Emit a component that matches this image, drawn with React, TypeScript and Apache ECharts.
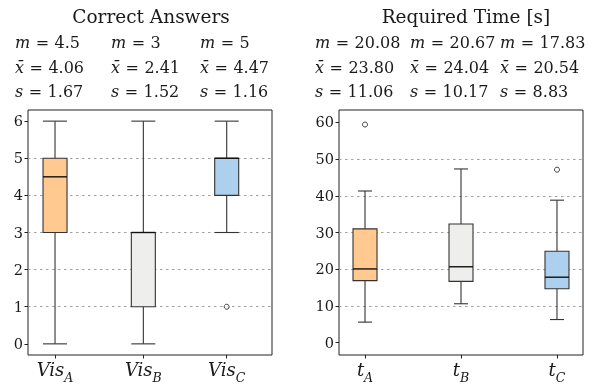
import React, { useEffect, useRef } from "react";
import * as echarts from "echarts";

// ---------- data ----------
const answerSubs = ["A", "B", "C"];
const answerMin = [0, 0, 3];
const answerQ1 = [3, 1, 4];
const answerMedian = [4.5, 3, 5];
const answerQ3 = [5, 3, 5];
const answerMax = [6, 6, 6];
const answerOutliers: [number, number][] = [[2, 1]]; // [box index, value]
const answerTicks = [0, 1, 2, 3, 4, 5, 6];
const answerM = ["4.5", "3", "5"];
const answerMean = ["4.06", "2.41", "4.47"];
const answerSd = ["1.67", "1.52", "1.16"];

const timeSubs = ["A", "B", "C"];
const timeMin = [5.6, 10.6, 6.3];
const timeQ1 = [16.9, 16.7, 14.7];
const timeMedian = [20.08, 20.67, 17.83];
const timeQ3 = [31.0, 32.3, 24.9];
const timeMax = [41.3, 47.3, 38.8];
const timeOutliers: [number, number][] = [
  [0, 59.4],
  [2, 47.1],
];
const timeTicks = [0, 10, 20, 30, 40, 50, 60];
const timeM = ["20.08", "20.67", "17.83"];
const timeMean = ["23.80", "24.04", "20.54"];
const timeSd = ["11.06", "10.17", "8.83"];

// ---------- layout / style ----------
const answerPos = [1, 2, 2.944];
const timePos = [1, 2, 3];
const fills = ["#FFC98F", "#EEEEEC", "#ADD0EE"];
const FONT = "'DejaVu Serif', serif";
const INK = "#222";
const TXT = "#1a1a1a";

function makeRender(boxHalf: number, capHalf: number) {
  return (params: any, api: any) => {
    const x = api.value(0);
    const pMin = api.coord([x, api.value(1)]);
    const pQ1 = api.coord([x, api.value(2)]);
    const pMed = api.coord([x, api.value(3)]);
    const pQ3 = api.coord([x, api.value(4)]);
    const pMax = api.coord([x, api.value(5)]);
    const cx = pMin[0];
    const ln = { stroke: "#333", lineWidth: 1.1 };
    return {
      type: "group",
      children: [
        { type: "line", shape: { x1: cx, y1: pMin[1], x2: cx, y2: pQ1[1] }, style: ln },
        { type: "line", shape: { x1: cx, y1: pQ3[1], x2: cx, y2: pMax[1] }, style: ln },
        { type: "line", shape: { x1: cx - capHalf, y1: pMin[1], x2: cx + capHalf, y2: pMin[1] }, style: ln },
        { type: "line", shape: { x1: cx - capHalf, y1: pMax[1], x2: cx + capHalf, y2: pMax[1] }, style: ln },
        {
          type: "rect",
          shape: { x: cx - boxHalf, y: pQ3[1], width: boxHalf * 2, height: pQ1[1] - pQ3[1] },
          style: { fill: fills[params.dataIndex], stroke: "#333", lineWidth: 1.1 },
        },
        {
          type: "line",
          shape: { x1: cx - boxHalf, y1: pMed[1], x2: cx + boxHalf, y2: pMed[1] },
          style: { stroke: "#111", lineWidth: 1.4 },
        },
      ],
    };
  };
}

const statRich = {
  i: { fontFamily: FONT, fontStyle: "italic", fontSize: 16, fill: TXT },
  e: { fontFamily: FONT, fontSize: 16, fill: TXT, padding: [0, 5.5, 0, 5.5] },
  n: { fontFamily: FONT, fontSize: 16, fill: TXT },
};

function statTexts(xs: number[], m: string[], mean: string[], sd: string[]) {
  const rows = [
    { y: 42.5, label: "m", vals: m },
    { y: 67.3, label: "x\u0304", vals: mean },
    { y: 91.5, label: "s", vals: sd },
  ];
  const out: any[] = [];
  rows.forEach((r) => {
    r.vals.forEach((v, i) => {
      out.push({
        type: "text",
        x: xs[i],
        y: r.y,
        style: {
          text: `{i|${r.label}}{e|=}{n|${v}}`,
          fontFamily: FONT,
          fontSize: 16,
          fill: TXT,
          verticalAlign: "middle",
          align: "left",
          rich: statRich,
        },
      });
    });
  });
  return out;
}

const xLabelRich = {
  v: { fontFamily: FONT, fontStyle: "italic", fontSize: 18, lineHeight: 24, verticalAlign: "top", color: TXT },
  s: { fontFamily: FONT, fontStyle: "italic", fontSize: 12.5, lineHeight: 14, verticalAlign: "bottom", color: TXT },
};

export default function App() {
  const ref = useRef<HTMLDivElement>(null);
  useEffect(() => {
    const chart = echarts.init(ref.current!, null, { renderer: "svg" });

    const answerBoxes = answerMin.map((_, i) => [
      answerPos[i], answerMin[i], answerQ1[i], answerMedian[i], answerQ3[i], answerMax[i],
    ]);
    const timeBoxes = timeMin.map((_, i) => [
      timePos[i], timeMin[i], timeQ1[i], timeMedian[i], timeQ3[i], timeMax[i],
    ]);

    const yAxisCommon = (gridIndex: number, min: number, max: number, ticks: number[]) => ({
      gridIndex,
      type: "value",
      min,
      max,
      axisLine: { show: false, onZero: false },
      axisTick: { show: true, customValues: ticks, length: 3.5, lineStyle: { color: INK, width: 1 } },
      axisLabel: {
        customValues: ticks,
        fontFamily: FONT,
        fontSize: 14.5,
        color: TXT,
        margin: 5,
      },
      splitLine: {
        show: true,
        showMinLine: false,
        showMaxLine: false,
        lineStyle: { color: "#a0a0a0", type: [2.5, 3.5], width: 1 },
      },
    });

    const xAxisCommon = (gridIndex: number, min: number, max: number, pos: number[], base: string, subs: string[]) => ({
      gridIndex,
      type: "value",
      min,
      max,
      axisLine: { show: false, onZero: false },
      splitLine: { show: false },
      axisTick: { show: true, customValues: pos, length: 3.5, lineStyle: { color: INK, width: 1 } },
      axisLabel: {
        customValues: pos,
        margin: 5,
        formatter: (v: number) => {
          let best = 0;
          pos.forEach((p, i) => {
            if (Math.abs(p - v) < Math.abs(pos[best] - v)) best = i;
          });
          return `{v|${base}}{s|${subs[best]}}`;
        },
        rich: xLabelRich,
      },
    });

    chart.setOption({
      animation: false,
      grid: [
        { left: 28, top: 110, width: 244, height: 245, show: true, borderColor: INK, borderWidth: 1, backgroundColor: "transparent" },
        { left: 339, top: 110, width: 244, height: 245, show: true, borderColor: INK, borderWidth: 1, backgroundColor: "transparent" },
      ],
      xAxis: [
        xAxisCommon(0, 0.694, 3.457, answerPos, "Vis", answerSubs),
        xAxisCommon(1, 0.729, 3.271, timePos, "t", timeSubs),
      ],
      yAxis: [yAxisCommon(0, -0.3, 6.3, answerTicks), yAxisCommon(1, -3.35, 63.35, timeTicks)],
      series: [
        {
          type: "custom",
          xAxisIndex: 0,
          yAxisIndex: 0,
          renderItem: makeRender(12, 12),
          encode: { x: 0, y: [1, 2, 3, 4, 5] },
          data: answerBoxes,
          z: 3,
        },
        {
          type: "custom",
          xAxisIndex: 1,
          yAxisIndex: 1,
          renderItem: makeRender(12, 7),
          encode: { x: 0, y: [1, 2, 3, 4, 5] },
          data: timeBoxes,
          z: 3,
        },
        {
          type: "scatter",
          xAxisIndex: 0,
          yAxisIndex: 0,
          symbol: "circle",
          symbolSize: 5,
          itemStyle: { color: "#fff", borderColor: "#111", borderWidth: 1 },
          data: answerOutliers.map(([i, v]) => [answerPos[i], v]),
          z: 4,
        },
        {
          type: "scatter",
          xAxisIndex: 1,
          yAxisIndex: 1,
          symbol: "circle",
          symbolSize: 5,
          itemStyle: { color: "#fff", borderColor: "#111", borderWidth: 1 },
          data: timeOutliers.map(([i, v]) => [timePos[i], v]),
          z: 4,
        },
      ],
      graphic: [
        {
          type: "text",
          x: 151,
          y: 16.5,
          style: { text: "Correct Answers", fontFamily: FONT, fontSize: 18.5, fill: TXT, align: "center", verticalAlign: "middle" },
        },
        {
          type: "text",
          x: 466,
          y: 16.5,
          style: { text: "Required Time [s]", fontFamily: FONT, fontSize: 18.5, fill: TXT, align: "center", verticalAlign: "middle" },
        },
        ...statTexts([15, 111, 200], answerM, answerMean, answerSd),
        ...statTexts([315, 410, 500], timeM, timeMean, timeSd),
      ],
    });
    return () => chart.dispose();
  }, []);
  return <div ref={ref} style={{ position: "fixed", left: 0, top: 0, width: 605, height: 388 }} />;
}
